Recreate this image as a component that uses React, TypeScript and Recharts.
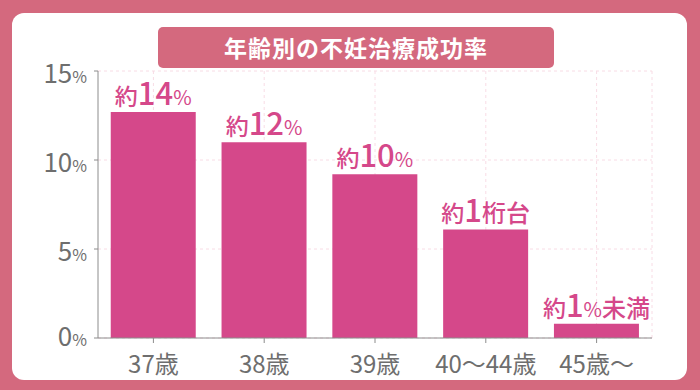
import React from 'react';
import { BarChart, Bar, XAxis, YAxis, CartesianGrid, LabelList } from 'recharts';

const categories = ['37歳', '38歳', '39歳', '40〜44歳', '45歳〜'];
const rates = [12.7, 11.0, 9.2, 6.1, 0.8];
const labelPrefix = ['約', '約', '約', '約', '約'];
const labelNumber = ['14', '12', '10', '1', '1'];
const labelSuffix = ['%', '%', '%', '桁台', '%未満'];
const yTicks = [0, 5, 10, 15];

const data = categories.map((name, i) => ({ name, rate: rates[i], idx: i }));

const FONT = '"Noto Sans CJK JP", "Noto Sans", sans-serif';
const PINK = '#d4697e';
const BAR = '#d5488a';
const GRAY = '#6e6e6e';

const YTick = ({ x, y, payload }: any) => (
  <text x={x - 5} y={y + (payload.value === 0 ? 8 : 12)} textAnchor="end" fill={GRAY} fontFamily={FONT}>
    <tspan fontSize={26}>{payload.value}</tspan>
    <tspan fontSize={16}>%</tspan>
  </text>
);

const XTick = ({ x, y, payload }: any) => (
  <text x={x} y={y + 28} textAnchor="middle" fill={GRAY} fontFamily={FONT} fontSize={24}>
    {payload.value}
  </text>
);

const BarLabel = (props: any) => {
  const { x, y, width, index } = props;
  const suffix: string = labelSuffix[index];
  const pct = suffix.startsWith('%');
  return (
    <text x={x + width / 2} y={y - 7} textAnchor="middle" fill={BAR} fontFamily={FONT}>
      <tspan fontSize={23} fontWeight={500}>{labelPrefix[index]}</tspan>
      <tspan fontSize={31} fontWeight={500}>{labelNumber[index]}</tspan>
      {pct && <tspan fontSize={20} fontWeight={400}>%</tspan>}
      <tspan fontSize={24} fontWeight={500}>{pct ? suffix.slice(1) : suffix}</tspan>
    </text>
  );
};

const verticalGen = ({ offset }: any) => {
  const n = categories.length;
  const pts = categories.map((_, i) => offset.left + (offset.width * (i + 0.5)) / n);
  pts.push(offset.left + offset.width);
  return pts;
};

export default function App() {
  return (
    <div style={{ position: 'fixed', left: 0, top: 0, width: 700, height: 390, background: PINK, fontFamily: FONT }}>
      <div style={{ position: 'absolute', left: 12, top: 13, width: 675, height: 367, background: '#fff', borderRadius: 12 }} />
      <div
        style={{
          position: 'absolute', left: 158, top: 27, width: 396, height: 41, background: PINK, borderRadius: 5,
          color: '#fff', fontWeight: 700, fontSize: 23, lineHeight: '41px', textAlign: 'center', letterSpacing: 1,
        }}
      >
        年齢別の不妊治療成功率
      </div>
      <div style={{ position: 'absolute', left: 0, top: 0 }}>
        <BarChart width={700} height={390} data={data} margin={{ top: 71, right: 48, bottom: 0, left: 0 }} barCategoryGap="11.5%">
          <CartesianGrid stroke="#f8dce5" strokeDasharray="3 3" verticalCoordinatesGenerator={verticalGen} />
          <XAxis dataKey="name" height={52} tick={<XTick />} tickSize={5} stroke="#8c8c8c" />
          <YAxis domain={[0, 15]} ticks={yTicks} width={98} tick={<YTick />} tickSize={4} stroke="#8c8c8c" />
          <Bar dataKey="rate" fill={BAR} isAnimationActive={false}>
            <LabelList dataKey="rate" content={<BarLabel />} />
          </Bar>
        </BarChart>
      </div>
    </div>
  );
}
